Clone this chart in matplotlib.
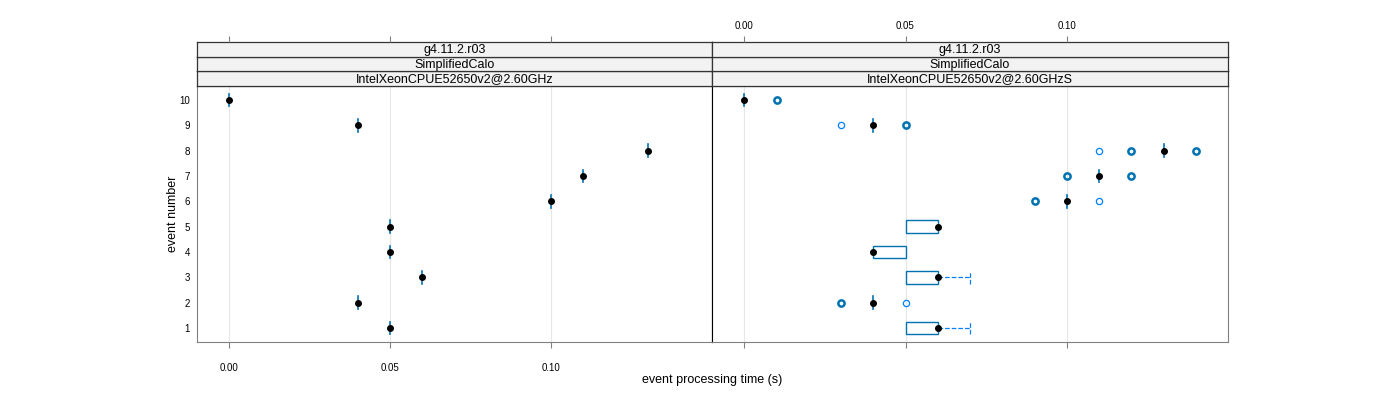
import numpy as np
import matplotlib
matplotlib.use("Agg")
import matplotlib.pyplot as plt

plt.rcParams['font.family'] = ['Liberation Sans', 'DejaVu Sans']

# datos de los paneles
eventos = [1, 2, 3, 4, 5, 6, 7, 8, 9, 10]
strip_top = ["g4.11.2.r03", "g4.11.2.r03"]
strip_mid = ["SimplifiedCalo", "SimplifiedCalo"]
strip_bot = ["IntelXeonCPUE52650v2@2.60GHz", "IntelXeonCPUE52650v2@2.60GHzS"]
marcas = [0.0, 0.05, 0.10]
etiquetas = ["0.00", "0.05", "0.10"]

# panel izquierdo: un solo valor por evento
tiempo_izq = [0.05, 0.04, 0.06, 0.05, 0.05, 0.10, 0.11, 0.13, 0.04, 0.00]

# panel derecho: estadisticas de caja por evento
mediana_der = [0.06, 0.04, 0.06, 0.04, 0.06, 0.10, 0.11, 0.13, 0.04, 0.00]
q1_der = [0.05, 0.04, 0.05, 0.04, 0.05, 0.10, 0.11, 0.13, 0.04, 0.00]
q3_der = [0.06, 0.04, 0.06, 0.05, 0.06, 0.10, 0.11, 0.13, 0.04, 0.00]
bigote_hi = [0.07, 0.04, 0.07, 0.05, 0.06, 0.10, 0.11, 0.13, 0.04, 0.00]
atipicos = [[], [0.03, 0.03, 0.05], [], [], [],
            [0.09, 0.09, 0.11], [0.10, 0.10, 0.12, 0.12],
            [0.11, 0.12, 0.12, 0.14, 0.14], [0.03, 0.05, 0.05], [0.01, 0.01]]

azul = "#0080ff"
azul_osc = "#0072b2"
gris = "#808080"

fig = plt.figure(figsize=(14, 4), dpi=100)
W, H = 1400.0, 400.0
x0, xm, x1 = 197 / W, 712 / W, 1228 / W
yb, yt = 1 - 342 / H, 1 - 86 / H
sh = 14.7 / H

ejes = []
for i, (a, b) in enumerate([(x0, xm), (xm, x1)]):
    ax = fig.add_axes([a, yb, b - a, yt - yb])
    ax.set_xlim(-0.01, 0.15)
    ax.set_ylim(0.45, 10.55)
    for v in marcas:
        ax.axvline(v, color="#e6e6e6", lw=0.8, zorder=0)
    for s in ax.spines.values():
        s.set_color(gris)
    ax.set_yticks(eventos)
    ax.tick_params(axis="y", length=0, labelsize=7, pad=5)
    ax.set_xticks(marcas)
    ax.set_xticklabels(etiquetas)
    ax.tick_params(axis="x", length=4, color=gris, labelsize=7, pad=11)
    if i == 0:
        ax.spines["right"].set_color("black")
    else:
        ax.spines["left"].set_color("black")
        ax.tick_params(axis="y", labelleft=False)
        ax.tick_params(axis="x", labelbottom=False)
    ax.spines["top"].set_color("black")
    ejes.append(ax)

    # franjas de titulo
    for k, txt in enumerate([strip_bot[i], strip_mid[i], strip_top[i]]):
        sax = fig.add_axes([a, yt + k * sh, b - a, sh])
        sax.set_facecolor("#f2f2f2")
        sax.set_xticks([])
        sax.set_yticks([])
        for s in sax.spines.values():
            s.set_color("#333333")
            s.set_linewidth(0.9)
        sax.text(0.5, 0.45, txt, ha="center", va="center", fontsize=9,
                 transform=sax.transAxes)

    # marcas de arriba, por encima de las franjas
    tax = fig.add_axes([a, yb, b - a, yt + 3 * sh - yb])
    tax.set_xlim(-0.01, 0.15)
    tax.patch.set_visible(False)
    for s in tax.spines.values():
        s.set_visible(False)
    tax.set_yticks([])
    tax.set_xticks(marcas)
    tax.set_xticklabels(etiquetas)
    tax.tick_params(axis="x", bottom=False, labelbottom=False, top=True,
                    labeltop=(i == 1), length=4, color=gris, labelsize=7,
                    pad=4)

# panel izquierdo
ax = ejes[0]
for e, t in zip(eventos, tiempo_izq):
    ax.plot([t, t], [e - 0.25, e + 0.25], color=azul_osc, lw=1.2, zorder=2)
ax.plot(tiempo_izq, eventos, "o", color="black", ms=4, zorder=3)

# panel derecho
ax = ejes[1]
for k, e in enumerate(eventos):
    lo, hi = q1_der[k], q3_der[k]
    if hi > lo:
        ax.add_patch(plt.Rectangle((lo, e - 0.25), hi - lo, 0.5, fill=False,
                                   edgecolor=azul_osc, lw=1.0, zorder=2))
    else:
        ax.plot([lo, lo], [e - 0.25, e + 0.25], color=azul_osc, lw=1.2,
                zorder=2)
    if bigote_hi[k] > hi:
        ax.plot([hi, bigote_hi[k]], [e, e], color=azul, lw=0.9, ls="--",
                zorder=1)
        ax.plot([bigote_hi[k]] * 2, [e - 0.25, e + 0.25], color=azul, lw=0.9,
                ls="--", zorder=1)
    vals, cnt = np.unique(atipicos[k], return_counts=True)
    for v, c in zip(vals, cnt):
        ax.plot(v, e, "o", mfc="none", mec=azul_osc if c > 1 else azul,
                mew=1.8 if c > 1 else 0.9, ms=4.5, zorder=3)
ax.plot(mediana_der, eventos, "o", color="black", ms=4, zorder=4)

fig.text(712 / W, 1 - 380 / H, "event processing time (s)", ha="center",
         va="center", fontsize=9)
fig.text(173 / W, 1 - 214 / H, "event number", ha="center", va="center",
         rotation=90, fontsize=9)

fig.savefig("out.png", dpi=100)
